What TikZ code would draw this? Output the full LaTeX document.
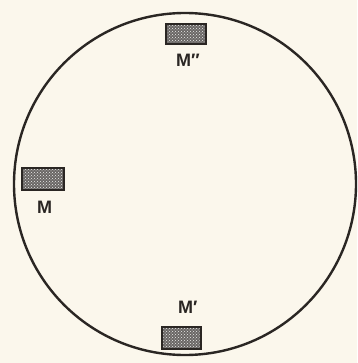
\documentclass[tikz,border=0pt]{standalone}
\usepackage{fontspec}
\setmainfont{Liberation Sans}
\usetikzlibrary{patterns}
\definecolor{paper}{HTML}{FBF7EC}
\definecolor{ink}{HTML}{2A2623}
\begin{document}
\begin{tikzpicture}[x=1pt,y=-1pt,
  mirror/.style={draw=ink,line width=2.2pt,fill=ink!70,minimum width=40pt,minimum height=20pt,inner sep=0pt},
  lbl/.style={text=ink,font=\bfseries\fontsize{18}{18}\selectfont,inner sep=0pt,anchor=base west}]
\fill[paper] (0,0) rectangle (357,363);
\useasboundingbox (0,0) rectangle (357,363);
\node[draw=ink,line width=2.4pt,circle,minimum size=342pt,inner sep=0pt] (disc) at (185,184) {};
\node[mirror] (m2) at (186,34) {};
\node[mirror,minimum width=42pt,minimum height=22pt] (m) at (43,179) {};
\node[mirror,minimum width=39pt,minimum height=22pt] (m1) at (181.5,338) {};
\foreach \n in {m2,m,m1}{\fill[pattern=crosshatch dots,pattern color=white!85!gray] ([shift={(2.5pt,-2.5pt)}]\n.north west) rectangle ([shift={(-2.5pt,2.5pt)}]\n.south east);}
\node[lbl] (l2) at (176,67) {M″};
\node[lbl] (l) at (37,213) {M};
\node[lbl] (l1) at (178,313) {M′};
\end{tikzpicture}
\end{document}
